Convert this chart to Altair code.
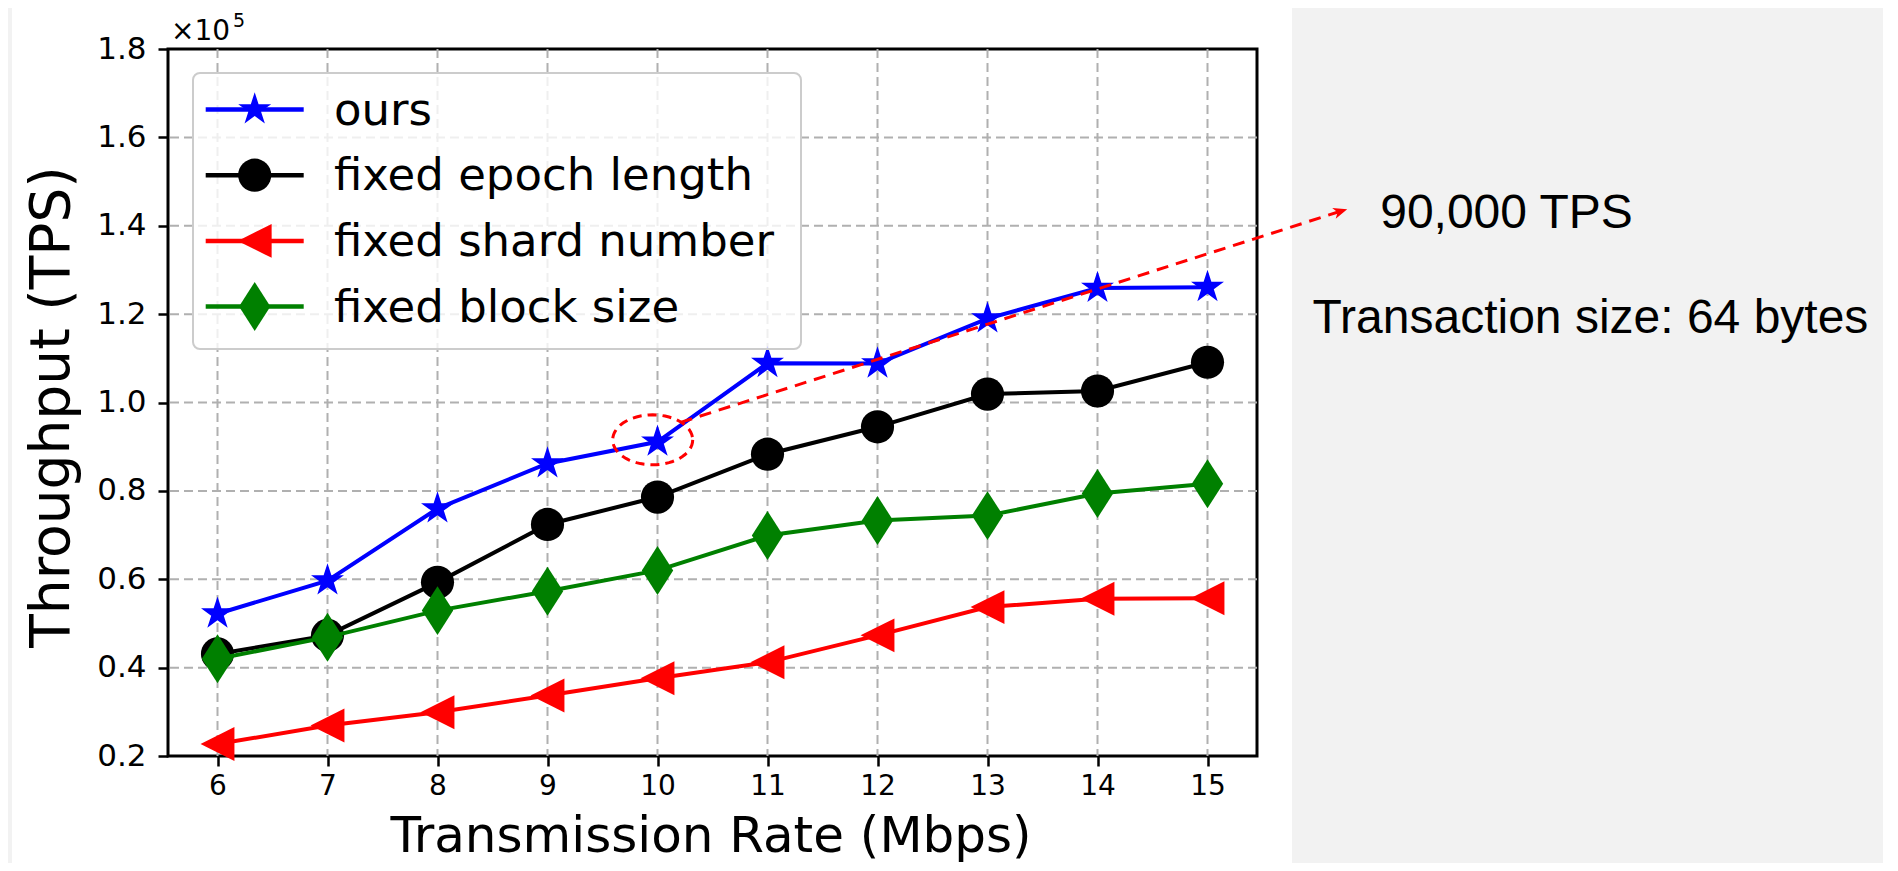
import math
import altair as alt
import pandas as pd

# ---------------- data ----------------
rates = [6, 7, 8, 9, 10, 11, 12, 13, 14, 15]
ours = [52200, 59700, 76000, 86200, 91100, 108900, 108800, 119000, 125900, 126100]
fixed_epoch = [43100, 47300, 59300, 72400, 78600, 88300, 94500, 101900, 102600, 109100]
fixed_shard = [22700, 26900, 29900, 33700, 37600, 41200, 47300, 53700, 55600, 55700]
fixed_block = [42000, 46900, 52900, 57300, 62000, 69900, 73300, 74400, 79400, 81600]

series_names = ["ours", "fixed epoch length", "fixed shard number", "fixed block size"]
series_values = [ours, fixed_epoch, fixed_shard, fixed_block]
series_colors = ["#0000ff", "#000000", "#ff0000", "#008000"]

x_ticks = [6, 7, 8, 9, 10, 11, 12, 13, 14, 15]
y_ticks = [20000, 40000, 60000, 80000, 100000, 120000, 140000, 160000, 180000]
y_grid = y_ticks[1:-1]

# annotation (highlighted point, arrow and notes)
highlight_rate = [10]
highlight_tps = [ours[4]]
arrow_rate = [10.21, 16.27]
arrow_tps = [95500, 143760]
note_texts = ["90,000 TPS", "Transaction size: 64 bytes"]
note_rate = [16.57, 15.955]
note_tps = [139460, 115670]

# ---------------- marker shapes ----------------
def star_path():
    pts = []
    for k in range(10):
        ang = math.radians(-90 + 36 * k)
        r = 1.0 if k % 2 == 0 else 0.382
        pts.append((r * math.cos(ang), r * math.sin(ang)))
    return "M" + "L".join(f"{x:.4f},{y:.4f}" for x, y in pts) + "Z"

def ellipse_path(rx=1.0, ry=0.625, cx=-0.12, cy=-0.05, n=60):
    pts = []
    for k in range(n):
        a = 2 * math.pi * k / n
        pts.append((cx + rx * math.cos(a), cy + ry * math.sin(a)))
    return "M" + "L".join(f"{x:.4f},{y:.4f}" for x, y in pts) + "Z"

STAR = star_path()
TRI_LEFT = "M-1,0L1,-1L1,1Z"
THIN_DIAMOND = "M0,-1L0.64,0L0,1L-0.64,0Z"
ELLIPSE = ellipse_path()
ARROW_HEAD = "M0,0L-2.2,-0.9L-1.6,0L-2.2,0.9Z"

series_shapes = [STAR, "circle", TRI_LEFT, THIN_DIAMOND]
series_sizes = [1200, 1100, 1150, 2400]

# ---------------- layout ----------------
W, H = 1875, 855          # whole chart
PW, PH = 1089, 707        # plot area
PL, PT = 160, 41          # plot offset inside the chart
PR = W - PL - PW
PB = H - PT - PH

FONT = "DejaVu Sans"

xs = alt.Scale(domain=[5.55, 15.45], nice=False, zero=False)
ys = alt.Scale(domain=[20000, 180000], nice=False, zero=False)

AX = alt.Axis(values=x_ticks, format="d", grid=False, domain=False,
              tickSize=10, tickWidth=2.5, tickColor="#000000",
              labelFont=FONT, labelFontSize=28, labelColor="#000000", labelPadding=6,
              labelFlush=False,
              title="Transmission Rate (Mbps)", titleFont=FONT, titleFontSize=50,
              titleFontWeight="normal", titleColor="#000000",
              titleX=542.5, titleY=95, titleAlign="center", titleBaseline="alphabetic")
AY = alt.Axis(values=y_ticks, labelExpr="format(datum.value / 100000, '.1f')",
              grid=False, domain=False,
              tickSize=10, tickWidth=2.5, tickColor="#000000",
              labelFont=FONT, labelFontSize=31, labelColor="#000000", labelPadding=12,
              labelFlush=False, labelOverlap=False,
              title="Throughput (TPS)", titleFont=FONT, titleFontSize=55,
              titleFontWeight="normal", titleColor="#000000", titleAngle=270,
              titleX=-100, titleY=357.5, titleAlign="center", titleBaseline="alphabetic")

X = alt.X("rate:Q", scale=xs, axis=AX)
Y = alt.Y("tps:Q", scale=ys, axis=AY)

one = pd.DataFrame({"k": [0]})
layers = []

# gray page area on the right and the thin left strip
layers.append(alt.Chart(one).mark_rect(color="#f2f2f2").encode(
    x=alt.value(1292 - 168), x2=alt.value(W - PL + 2), y=alt.value(-PT), y2=alt.value(H - PT)))
layers.append(alt.Chart(one).mark_rect(color="#f2f2f2").encode(
    x=alt.value(-PL), x2=alt.value(12 - 168), y=alt.value(-PT), y2=alt.value(H - PT)))

# grid
grid_style = dict(color="#b0b0b0", strokeWidth=2, strokeDash=[9, 5])
layers.append(alt.Chart(pd.DataFrame({"rate": x_ticks})).mark_rule(**grid_style).encode(x=X))
layers.append(alt.Chart(pd.DataFrame({"tps": y_grid})).mark_rule(**grid_style).encode(y=Y))

# series
for name, vals, col, shp, sz in zip(series_names, series_values, series_colors,
                                      series_shapes, series_sizes):
    df = pd.DataFrame({"rate": rates, "tps": vals})
    layers.append(alt.Chart(df).mark_line(color=col, strokeWidth=4).encode(x=X, y=Y))
    layers.append(alt.Chart(df).mark_point(shape=shp, size=sz, filled=True, color=col,
                                           opacity=1, strokeWidth=0).encode(x=X, y=Y))

# annotation: dashed ellipse + dashed arrow
layers.append(alt.Chart(pd.DataFrame({"rate": highlight_rate, "tps": highlight_tps}))
              .mark_point(shape=ELLIPSE, size=6400, filled=False, color="#ff0000",
                          strokeWidth=3, strokeDash=[9, 6], opacity=1).encode(x=X, y=Y))
layers.append(alt.Chart(pd.DataFrame({"rate": arrow_rate, "tps": arrow_tps}))
              .mark_line(color="#ff0000", strokeWidth=3, strokeDash=[12, 8]).encode(x=X, y=Y))
layers.append(alt.Chart(pd.DataFrame({"rate": arrow_rate[1:], "tps": arrow_tps[1:]}))
              .mark_point(shape=ARROW_HEAD, size=160, filled=True, color="#ff0000",
                          opacity=1, angle=342, strokeWidth=0).encode(x=X, y=Y))

# notes on the right
layers.append(alt.Chart(pd.DataFrame({"rate": note_rate, "tps": note_tps, "note": note_texts}))
              .mark_text(align="left", baseline="alphabetic", font="Liberation Sans",
                         fontSize=48, color="#000000")
              .encode(x=X, y=Y, text="note:N"))

# legend (drawn by hand: line + marker + label)
layers.append(alt.Chart(one).mark_rect(fill="#ffffff", fillOpacity=0.8, stroke="#cccccc",
                                       strokeWidth=2, cornerRadius=7).encode(
    x=alt.value(25), x2=alt.value(633), y=alt.value(24), y2=alt.value(300)))
for i, (name, col, shp, sz) in enumerate(zip(series_names, series_colors,
                                             series_shapes, series_sizes)):
    yc = 60.5 + i * 65.7
    layers.append(alt.Chart(one).mark_rule(color=col, strokeWidth=4.5).encode(
        x=alt.value(37.7), x2=alt.value(135.7), y=alt.value(yc)))
    layers.append(alt.Chart(one).mark_point(shape=shp, size=sz, filled=True, color=col,
                                            opacity=1, strokeWidth=0).encode(
        x=alt.value(86.7), y=alt.value(yc)))
    layers.append(alt.Chart(one).mark_text(text=name, align="left", baseline="alphabetic",
                                           font=FONT, fontSize=45, color="#000000").encode(
        x=alt.value(166), y=alt.value(yc + 15)))

# offset text  x10^5
layers.append(alt.Chart(one).mark_text(text="×10", align="left", baseline="alphabetic",
                                       font=FONT, fontSize=28, color="#000000").encode(
    x=alt.value(3), y=alt.value(-9)))
layers.append(alt.Chart(one).mark_text(text="5", align="left", baseline="alphabetic",
                                       font=FONT, fontSize=19, color="#000000").encode(
    x=alt.value(65), y=alt.value(-22)))

chart = (alt.layer(*layers)
         .properties(width=PW, height=PH,
                     padding={"left": PL, "top": PT, "right": PR, "bottom": PB},
                     autosize=alt.AutoSizeParams(type="none"),
                     background="#ffffff")
         .configure_view(stroke="#000000", strokeWidth=3))

chart.save("out.html", embed_options={"renderer": "svg", "actions": False})
